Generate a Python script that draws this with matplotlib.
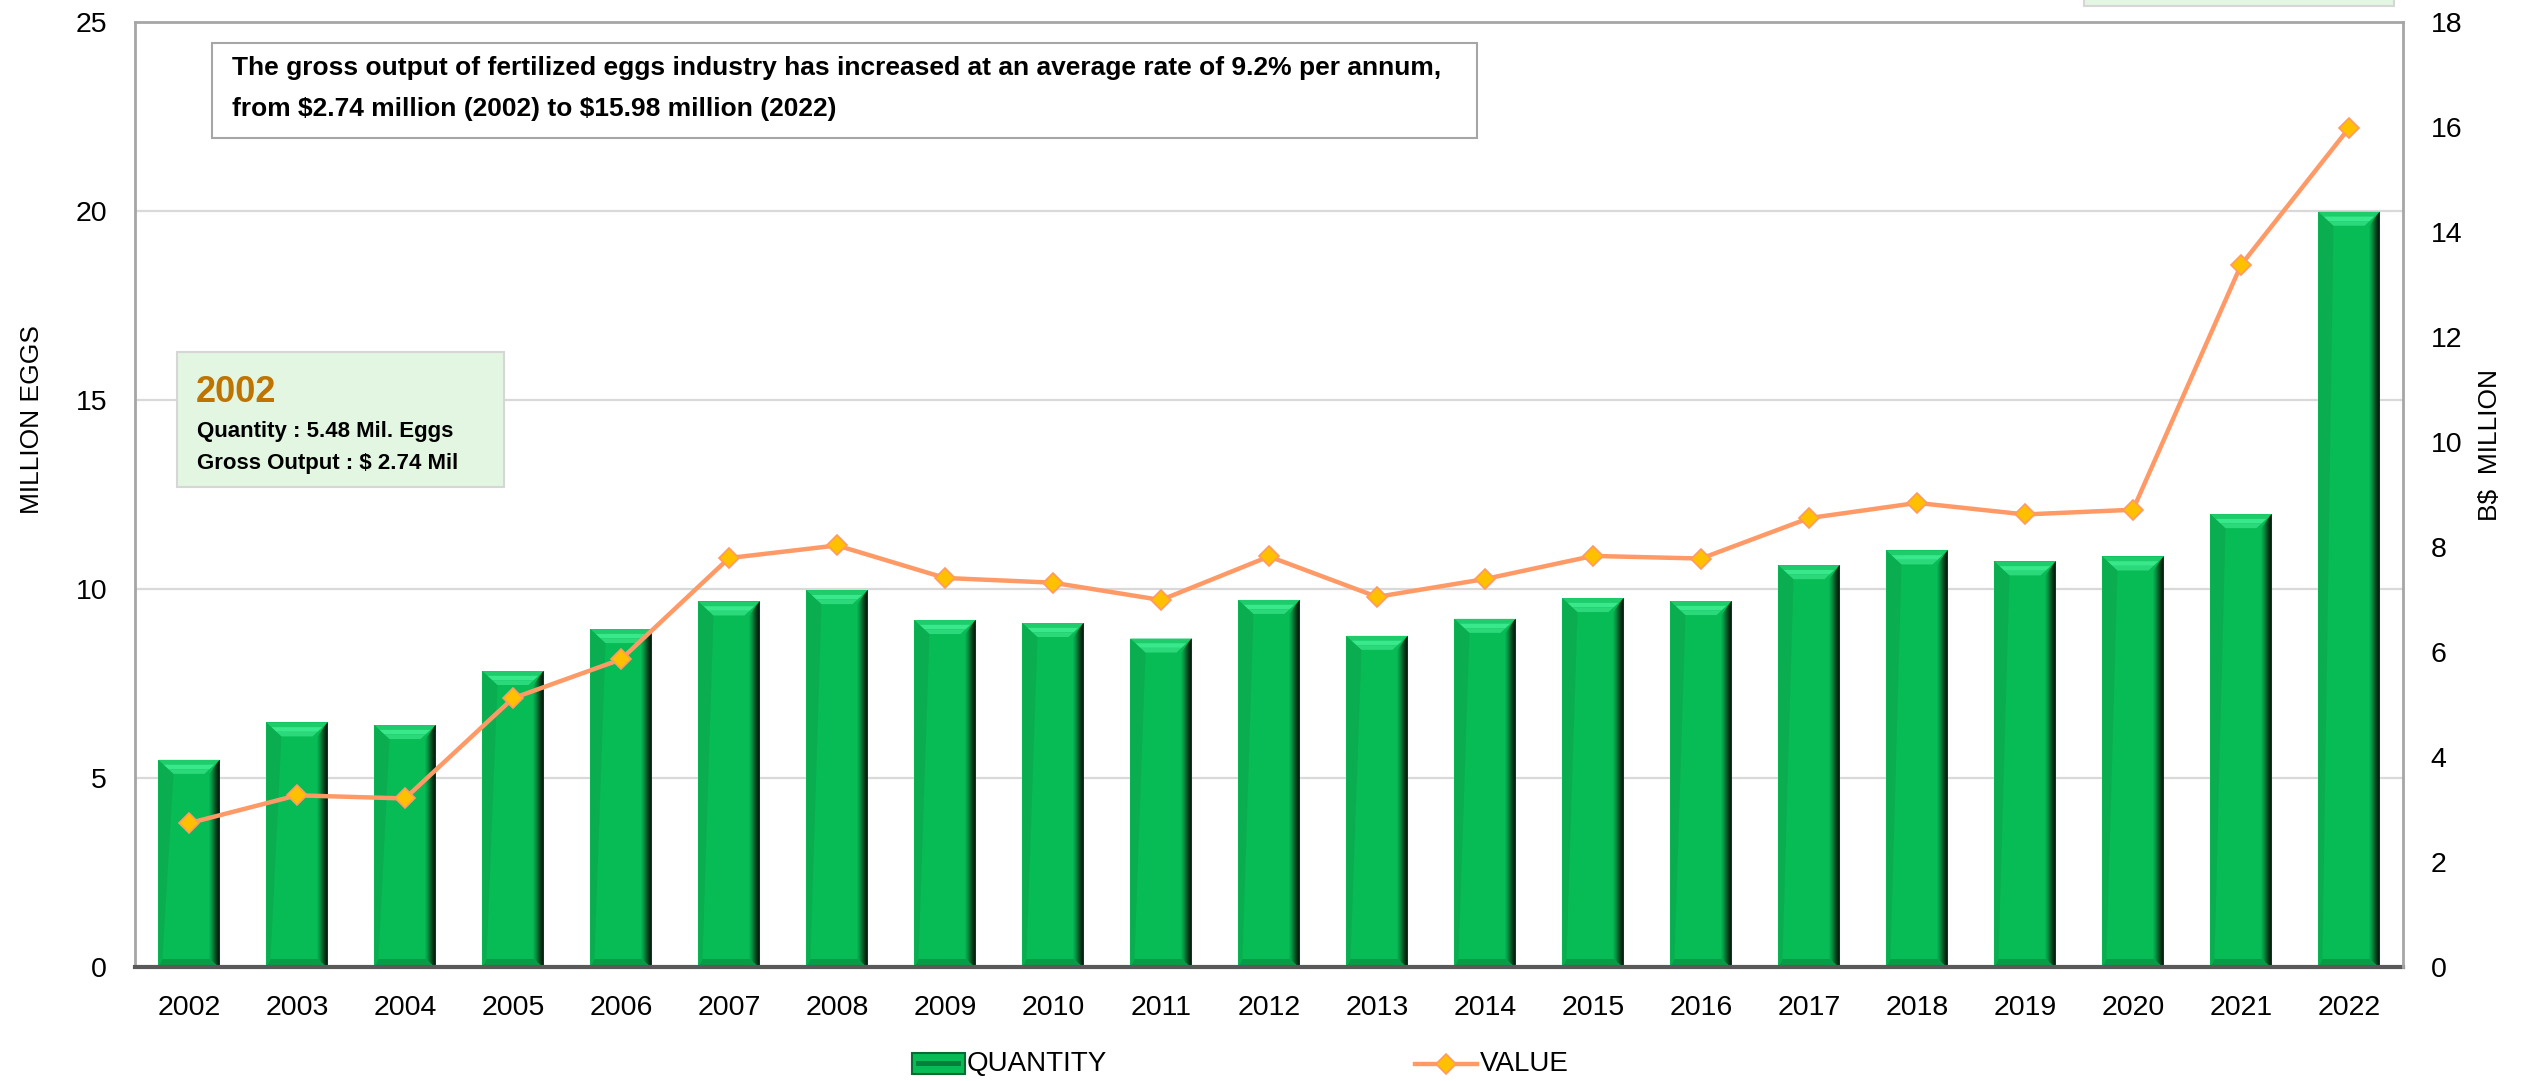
import matplotlib
matplotlib.use("Agg")
import matplotlib.pyplot as plt
from matplotlib.patches import Polygon, Rectangle
from matplotlib.lines import Line2D

plt.rcParams["font.family"] = ["Liberation Sans Narrow", "Liberation Sans", "DejaVu Sans"]

# Fertilized eggs: quantity (million eggs) and gross output (B$ million)
years = [str(y) for y in range(2002, 2023)]
quantity = [5.48, 6.47, 6.40, 7.83, 8.94, 9.67, 9.97, 9.18, 9.10, 8.69, 9.71,
            8.76, 9.21, 9.76, 9.68, 10.63, 11.02, 10.73, 10.86, 11.98, 19.98]
value = [2.74, 3.27, 3.21, 5.12, 5.86, 7.79, 8.03, 7.41, 7.32, 6.99, 7.82,
         7.05, 7.39, 7.83, 7.78, 8.55, 8.84, 8.62, 8.71, 13.37, 15.98]
left_ticks = [0, 5, 10, 15, 20, 25]
right_ticks = [0, 2, 4, 6, 8, 10, 12, 14, 16, 18]

W, H, DPI = 2522, 1081, 100
fig = plt.figure(figsize=(W / DPI, H / DPI), dpi=DPI)


def fx(px):
    return px / W


def fy(py):
    return 1 - py / H


ax = fig.add_axes([fx(135), fy(967), fx(2403) - fx(135), fy(22) - fy(967)])
ax2 = ax.twinx()

x = list(range(len(years)))
BAR = "#07bb55"
bars = ax.bar(x, quantity, width=0.565, color=BAR, zorder=2, linewidth=0)

ax.set_xlim(-0.5, len(years) - 0.5)
ax.set_ylim(0, 25)
ax2.set_ylim(0, 18)
ax.set_yticks(left_ticks)
ax2.set_yticks(right_ticks)
ax.set_xticks(x)
ax.set_xticklabels(years)
ax.tick_params(axis="both", length=0, labelsize=20.5, pad=20)
ax2.tick_params(axis="y", length=0, labelsize=20.5, pad=20)
ax.grid(axis="y", color="#d9d9d9", linewidth=1.6, zorder=0)
ax.set_axisbelow(True)

for a in (ax, ax2):
    for s in a.spines.values():
        s.set_visible(False)
ax.spines["left"].set_visible(True)
ax.spines["top"].set_visible(True)
ax.spines["bottom"].set_visible(True)
ax2.spines["right"].set_visible(True)
for s in (ax.spines["left"], ax.spines["top"], ax2.spines["right"]):
    s.set_color("#a6a6a6")
    s.set_linewidth(2)
ax.spines["bottom"].set_color("#595959")
ax.spines["bottom"].set_linewidth(3)
ax.spines["bottom"].set_zorder(5)

# bevel shading on each bar, sized in pixels
pos = ax.get_position()
px_x = pos.width * W / 21.0
px_y = pos.height * H / 25.0
bx, by = 15 / px_x, 14 / px_y
rx, ry = 10 / px_x, 8 / px_y
for r in bars:
    x0, w, h = r.get_x(), r.get_width(), r.get_height()
    x1 = x0 + w
    ax.add_patch(Polygon([(x0, 0), (x0, h), (x0 + bx, h - by), (x0 + 4 / px_x, ry)],
                         closed=True, color="#0aae50", lw=0, zorder=2.1))
    ax.add_patch(Polygon([(x0, 0), (x1, 0), (x1 - rx, ry), (x0 + 4 / px_x, ry)],
                         closed=True, color="#069d46", lw=0, zorder=2.1))
    shades = ["#07a54b", "#06853c", "#04602b", "#023d1b", "#01220f"]
    n = len(shades)
    for i, c in enumerate(shades):
        xa = x1 - rx + rx * i / n
        ax.add_patch(Polygon([(xa, ry * (1 - i / n)), (xa, h - by * (1 - i / n)),
                              (x1, h), (x1, 0)],
                             closed=True, color=c, lw=0, zorder=2.2 + i * 0.01))
    tops = ["#1fcc6b", "#3ae88c", "#2bd97a"]
    for i, c in enumerate(tops):
        f0, f1 = i / len(tops), (i + 1) / len(tops)
        ax.add_patch(Polygon([(x0 + bx * f0, h - by * f0), (x1 - bx * f0, h - by * f0),
                              (x1 - bx * f1, h - by * f1), (x0 + bx * f1, h - by * f1)],
                             closed=True, color=c, lw=0, zorder=2.3))

LINE = "#ff9966"
MARK = "#ffc000"
ax2.plot(x, value, color=LINE, linewidth=3.2, marker="D", markersize=10.5,
         markerfacecolor=MARK, markeredgecolor=LINE, markeredgewidth=1.2,
         zorder=3)

# axis titles
fig.text(fx(32), fy(420), "MILLION EGGS", rotation=90, fontsize=19,
         ha="center", va="center")
fig.text(fx(2490), fy(445), "B$  MILLION", rotation=90, fontsize=19,
         ha="center", va="center")

# summary box
fig.patches.append(Rectangle((fx(212), fy(138)), fx(1477) - fx(212), fy(43) - fy(138),
                             transform=fig.transFigure, facecolor="white",
                             edgecolor="#a6a6a6", linewidth=1.5, zorder=10))
fig.text(fx(232), fy(68), "The gross output of fertilized eggs industry has increased at "
         "an average rate of 9.2% per annum,", fontsize=19, fontweight="bold",
         ha="left", va="center", zorder=11)
fig.text(fx(232), fy(109), r"from \$2.74 million (2002) to \$15.98 million (2022)",
         fontsize=19, fontweight="bold", ha="left", va="center", zorder=11)

# 2002 call-out box
fig.patches.append(Rectangle((fx(177), fy(487)), fx(504) - fx(177), fy(352) - fy(487),
                             transform=fig.transFigure, facecolor="#e2f6e2",
                             edgecolor="#d6d6d6", linewidth=1.5, zorder=10))
fig.text(fx(196), fy(392), "2002", fontsize=26, fontweight="bold", color="#bf7300",
         ha="left", va="center", zorder=11)
fig.text(fx(197), fy(432), "Quantity : 5.48 Mil. Eggs", fontsize=16,
         fontweight="bold", ha="left", va="center", zorder=11)
fig.text(fx(197), fy(463), r"Gross Output : \$ 2.74 Mil", fontsize=16,
         fontweight="bold", ha="left", va="center", zorder=11)

# partially visible box at the top right
fig.patches.append(Rectangle((fx(2084), fy(6)), fx(2394) - fx(2084), fy(-40) - fy(6),
                             transform=fig.transFigure, facecolor="#e2f6e2",
                             edgecolor="#d6d6d6", linewidth=1.5, zorder=10))

# legend
fig.patches.append(Rectangle((fx(912), fy(1074)), fx(965) - fx(912), fy(1053) - fy(1074),
                             transform=fig.transFigure, facecolor=BAR,
                             edgecolor="#0a6a33", linewidth=1.5))
fig.patches.append(Rectangle((fx(916), fy(1066)), fx(961) - fx(916), fy(1061) - fy(1066),
                             transform=fig.transFigure, facecolor="#05803a",
                             linewidth=0))
fig.text(fx(967), fy(1064), "QUANTITY", fontsize=20, ha="left", va="center")
fig.lines.append(Line2D([fx(1415), fx(1477)], [fy(1064), fy(1064)],
                        transform=fig.transFigure, color=LINE, linewidth=3.2))
fig.lines.append(Line2D([fx(1446)], [fy(1064)], transform=fig.transFigure,
                        marker="D", markersize=10.5, markerfacecolor=MARK,
                        markeredgecolor=LINE, markeredgewidth=1.2))
fig.text(fx(1480), fy(1064), "VALUE", fontsize=20, ha="left", va="center")

fig.savefig("out.png", dpi=DPI)
